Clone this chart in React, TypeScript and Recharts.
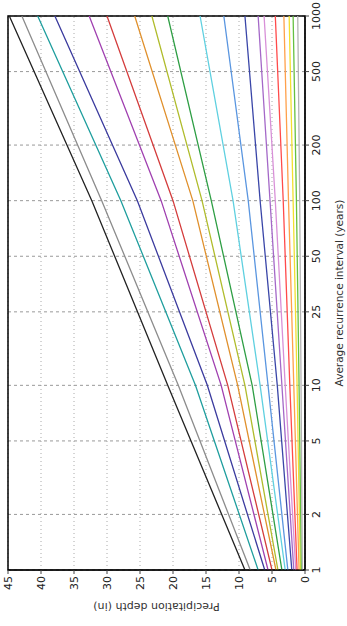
import React from 'react';
import {
  LineChart, Line, XAxis, YAxis, CartesianGrid, ReferenceArea
} from 'recharts';

// recurrence intervals (years) where depths were read
const intervals = [1, 10, 100, 1000];
const intervalTicks = [1, 2, 5, 10, 25, 50, 100, 200, 500, 1000];
const depthTicks = [0, 5, 10, 15, 20, 25, 30, 35, 40, 45];

const durations = [
  '60-day', '45-day', '30-day', '20-day', '10-day', '7-day', '4-day', '3-day', '2-day',
  '24-hr', '12-hr', '6-hr', '3-hr', '2-hr', '60-min', '30-min', '15-min', '10-min', '5-min'
];

const d60 = [9.1, 20.8, 32.3, 44.8];
const d45 = [8.3, 19.2, 30.8, 42.9];
const d30 = [7.1, 16.6, 27.9, 40.5];
const d20 = [6.1, 14.8, 25.4, 37.9];
const d10 = [5.6, 12.7, 21.8, 32.7];
const d7 = [5.0, 11.7, 20.0, 30.0];
const d4 = [4.4, 10.2, 17.0, 25.8];
const d3 = [4.1, 9.1, 15.6, 23.2];
const d2 = [3.5, 8.0, 14.2, 20.8];
const h24 = [3.0, 6.8, 10.9, 15.9];
const h12 = [2.6, 5.6, 8.6, 12.3];
const h6 = [2.0, 4.2, 6.8, 9.1];
const h3 = [1.7, 3.5, 5.3, 7.1];
const h2 = [1.4, 3.0, 4.5, 6.2];
const m60 = [1.2, 2.3, 3.3, 4.5];
const m30 = [0.9, 1.7, 2.5, 3.2];
const m15 = [0.7, 1.2, 1.8, 2.4];
const m10 = [0.55, 0.9, 1.3, 1.8];
const m5 = [0.4, 0.6, 0.8, 1.1];

const seriesValues = [d60, d45, d30, d20, d10, d7, d4, d3, d2, h24, h12, h6, h3, h2, m60, m30, m15, m10, m5];

const colors = [
  '#222222', '#8c8c8c', '#1f9e9e', '#3b3b9e', '#a040b0', '#d43c3c', '#e0902c', '#b0bc2c', '#2e9e44',
  '#5fd0e0', '#5a96e0', '#3a46a8', '#a468c8', '#d890d8', '#ff4a4a', '#ffa04a', '#f2e030', '#66c040', '#b4b4b4'
];

const data = intervals.map((interval, i) => {
  const row: Record<string, number> = { interval };
  durations.forEach((d, j) => { row[d] = seriesValues[j][i]; });
  return row;
});

const W = 626;
const H = 347;
const font = { fill: '#222', fontSize: 11, fontFamily: 'DejaVu Sans' };

export default function App() {
  return (
    <div style={{ position: 'absolute', left: 0, top: 0, width: H, height: W, overflow: 'hidden', background: '#fff' }}>
      {/* chart drawn in its natural orientation, then turned 90deg counter-clockwise */}
      <div style={{ width: W, height: H, transformOrigin: '0 0', transform: `translate(0px, ${W}px) rotate(-90deg)` }}>
        <LineChart width={W} height={H} data={data} margin={{ top: 8, right: 16, left: 0, bottom: 0 }}>
          <CartesianGrid vertical={false} stroke="#aaa" strokeDasharray="1 3" />
          <CartesianGrid horizontal={false} stroke="#999" strokeDasharray="3 3" />
          <XAxis
            dataKey="interval" type="number" scale="log" domain={[1, 1000]} ticks={intervalTicks}
            allowDataOverflow height={42} tick={font} tickSize={4} tickMargin={3}
            stroke="#000" tickLine={{ stroke: '#444' }}
            label={{ value: 'Average recurrence interval (years)', position: 'insideBottom', offset: 4, style: { ...font, fontSize: 10.5, fill: '#333' } }}
          />
          <YAxis
            type="number" domain={[0, 45]} ticks={depthTicks} allowDataOverflow width={56}
            tick={font} tickSize={4} tickMargin={2} stroke="#000" tickLine={{ stroke: '#444' }}
            label={{ value: 'Precipitation depth (in)', angle: -90, position: 'insideLeft', offset: 19, style: { ...font, fill: '#333', textAnchor: 'middle' } }}
          />
          {durations.map((d, j) => (
            <Line key={d} dataKey={d} name={d} stroke={colors[j]} strokeWidth={1.3}
              dot={false} isAnimationActive={false} type="linear" />
          ))}
          <ReferenceArea x1={1} x2={1000} y1={0} y2={45} fill="none" stroke="#000" strokeWidth={1.5} ifOverflow="visible" />
        </LineChart>
      </div>
    </div>
  );
}
